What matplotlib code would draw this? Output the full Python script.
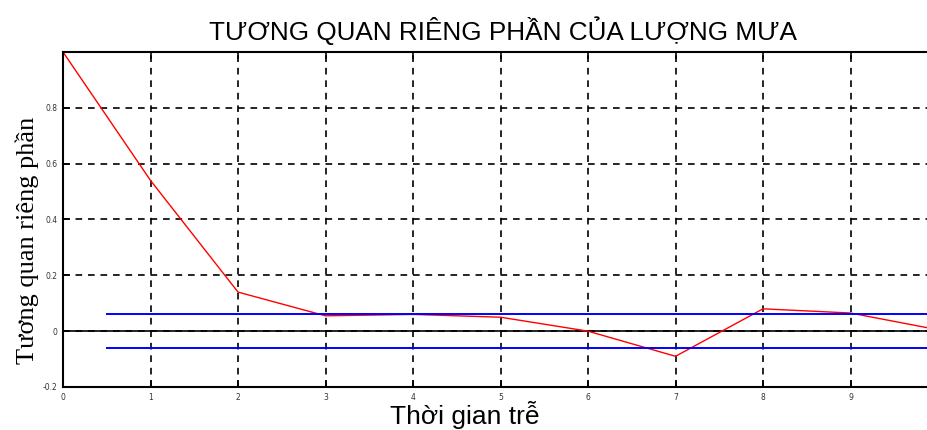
import matplotlib.pyplot as plt

# Partial autocorrelation of rainfall
lags = [0, 1, 2, 3, 4, 5, 6, 7, 8, 9, 10]
pacf = [1.0, 0.54, 0.14, 0.055, 0.06, 0.05, 0.0, -0.09, 0.08, 0.065, 0.005]

# Confidence bounds
bound = 0.062
bound_x = [0.5, 10]

x_ticks = [0, 1, 2, 3, 4, 5, 6, 7, 8, 9, 10]
y_ticks = [-0.2, 0, 0.2, 0.4, 0.6, 0.8]
y_tick_labels = ["-0.2", "0", "0.2", "0.4", "0.6", "0.8"]

fig = plt.figure(figsize=(9.27, 4.30), dpi=100)
ax = fig.add_axes([63 / 927, 1 - 387 / 430, 875 / 927, 335 / 430])

# Grid
ax.set_xticks(x_ticks)
ax.set_yticks(y_ticks)
ax.set_yticklabels(y_tick_labels)
ax.grid(True, color="black", linestyle=(0, (4, 3.5)), linewidth=1.2)
ax.axhline(0, color="black", linewidth=1.2)

# Data
ax.plot(lags, pacf, color="red", linewidth=1)
ax.plot(bound_x, [bound, bound], color="blue", linewidth=1.4)
ax.plot(bound_x, [-bound, -bound], color="blue", linewidth=1.4)

ax.set_xlim(0, 10)
ax.set_ylim(-0.2, 1.0)

for side in ["left", "bottom", "top"]:
    ax.spines[side].set_linewidth(1.5)
ax.spines["right"].set_visible(False)
ax.tick_params(direction="in", length=5, width=1.2, top=True,
               labelsize=5.5, colors="black", labelcolor="#333333", pad=4)

# Titles
fig.text(503 / 927, 1 - 40 / 430, "TƯƠNG QUAN RIÊNG PHẦN CỦA LƯỢNG MƯA",
         family="Liberation Sans", fontsize=18.8, ha="center", va="baseline")
fig.text(465 / 927, 1 - 424 / 430, "Thời gian trễ",
         family="Liberation Sans", fontsize=19, ha="center", va="baseline")
fig.text(27 / 927, 1 - 240 / 430, "Tương quan riêng phần",
         family="Liberation Serif", fontsize=19, rotation=90,
         ha="center", va="center")

fig.savefig("out.png", dpi=100)
